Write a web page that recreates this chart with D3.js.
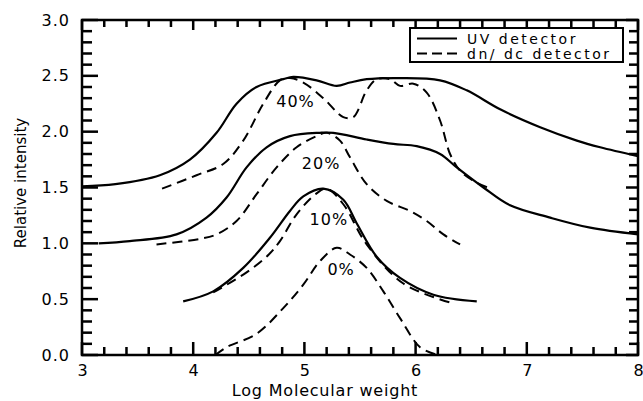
<!DOCTYPE html>
<html><head><meta charset="utf-8">
<script src="https://cdn.jsdelivr.net/npm/d3@7"></script>
<style>body{margin:0;background:#fff}svg{display:block}text{font-family:"DejaVu Sans",sans-serif;fill:#000}</style>
</head><body><svg id="c" width="643" height="401"></svg>
<script>
const xTicks = [3, 4, 5, 6, 7, 8];
const yTicks = [0.0, 0.5, 1.0, 1.5, 2.0, 2.5, 3.0];
const uv40X = [3.0, 3.3, 3.7, 3.97, 4.21, 4.39, 4.57, 4.81, 4.9, 5.11, 5.29, 5.41, 5.56, 5.86, 6.22, 6.46, 6.76, 7.12, 7.45, 7.66, 8.0];
const uv40Y = [1.51, 1.53, 1.61, 1.75, 1.99, 2.25, 2.40, 2.47, 2.49, 2.46, 2.41, 2.44, 2.47, 2.48, 2.46, 2.37, 2.20, 2.04, 1.92, 1.86, 1.78];
const dn40X = [3.72, 4.03, 4.27, 4.45, 4.63, 4.78, 4.87, 4.99, 5.17, 5.35, 5.44, 5.56, 5.65, 5.77, 5.86, 5.98, 6.10, 6.22, 6.31, 6.40, 6.52, 6.67];
const dn40Y = [1.49, 1.61, 1.71, 1.92, 2.25, 2.46, 2.48, 2.44, 2.30, 2.13, 2.13, 2.37, 2.47, 2.47, 2.41, 2.43, 2.35, 2.10, 1.80, 1.65, 1.56, 1.49];
const uv20X = [3.15, 3.43, 3.85, 4.12, 4.30, 4.48, 4.66, 4.87, 5.14, 5.26, 5.56, 5.80, 6.01, 6.22, 6.37, 6.61, 6.85, 7.21, 7.57, 8.0];
const uv20Y = [1.0, 1.02, 1.08, 1.23, 1.41, 1.68, 1.86, 1.96, 1.99, 1.99, 1.93, 1.89, 1.87, 1.80, 1.68, 1.50, 1.34, 1.23, 1.14, 1.08];
const dn20X = [3.67, 4.06, 4.21, 4.39, 4.57, 4.75, 4.93, 5.11, 5.20, 5.32, 5.41, 5.56, 5.74, 5.95, 6.10, 6.25, 6.40];
const dn20Y = [0.99, 1.04, 1.08, 1.20, 1.44, 1.68, 1.86, 1.96, 1.99, 1.92, 1.77, 1.53, 1.38, 1.29, 1.20, 1.08, 0.99];
const uv10X = [3.91, 4.18, 4.45, 4.69, 4.87, 4.99, 5.17, 5.35, 5.47, 5.65, 5.86, 6.16, 6.55];
const uv10Y = [0.48, 0.57, 0.78, 1.05, 1.29, 1.42, 1.49, 1.39, 1.18, 0.88, 0.69, 0.54, 0.48];
const dn10X = [4.18, 4.48, 4.68, 4.78, 4.93, 5.10, 5.20, 5.35, 5.56, 5.89, 6.31];
const dn10Y = [0.56, 0.74, 0.90, 1.02, 1.26, 1.44, 1.49, 1.35, 0.99, 0.64, 0.47];
const dn0X = [4.2, 4.30, 4.57, 4.81, 4.99, 5.14, 5.29, 5.41, 5.56, 5.71, 5.86, 6.04, 6.2];
const dn0Y = [0.0, 0.07, 0.19, 0.42, 0.63, 0.84, 0.96, 0.90, 0.78, 0.57, 0.33, 0.07, 0.0];
const pctLabels = ["40%", "20%", "10%", "0%"];
const pctX = [4.92, 5.15, 5.22, 5.33];
const pctY = [2.22, 1.67, 1.16, 0.72];
const legendLabels = ["UV detector", "dn/ dc detector"];

const svg = d3.select("#c");
const L = 82, R = 638, T = 20, B = 355;
const x = d3.scaleLinear().domain([3, 8]).range([L, R]);
const y = d3.scaleLinear().domain([0, 3]).range([B, T]);

const xMinor = d3.range(3, 8.001, 0.2).map(v => +v.toFixed(2));
const yMinor = d3.range(0, 3.001, 0.1).map(v => +v.toFixed(2));
const isMajX = v => Math.abs(v - Math.round(v)) < 1e-6;
const isMajY = v => Math.abs(v * 2 - Math.round(v * 2)) < 1e-6;

// frame
svg.append("path").attr("d", `M${L},${T}H${R}V${B}H${L}Z`)
  .attr("fill", "none").attr("stroke", "#000").attr("stroke-width", 2.5);

// inward ticks drawn as small filled rectangles, all four sides
const tw = 2.5;
const tg = svg.append("g").attr("fill", "#000");
tg.selectAll("rect.xb").data(xMinor).join("rect").attr("class", "xb")
  .attr("x", d => x(d) - tw / 2).attr("width", tw)
  .attr("y", d => B - (isMajX(d) ? 13 : 8)).attr("height", d => (isMajX(d) ? 13 : 8));
tg.selectAll("rect.xt").data(xMinor).join("rect").attr("class", "xt")
  .attr("x", d => x(d) - tw / 2).attr("width", tw)
  .attr("y", T).attr("height", d => (isMajX(d) ? 10 : 7));
tg.selectAll("rect.yl").data(yMinor).join("rect").attr("class", "yl")
  .attr("y", d => y(d) - tw / 2).attr("height", tw)
  .attr("x", L).attr("width", d => (isMajY(d) ? 16 : 10));
tg.selectAll("rect.yr").data(yMinor).join("rect").attr("class", "yr")
  .attr("y", d => y(d) - tw / 2).attr("height", tw)
  .attr("x", d => R - (isMajY(d) ? 12 : 9)).attr("width", d => (isMajY(d) ? 12 : 9));

const xa = svg.append("g").attr("transform", `translate(0,${B})`)
  .call(d3.axisBottom(x).tickValues(xTicks).tickFormat(d3.format("d")).tickSize(0).tickPadding(10));
xa.select(".domain").remove();
xa.selectAll(".tick line").remove();
xa.selectAll("text").attr("font-size", 16).attr("font-family", "DejaVu Sans").attr("fill", "#000");
const ya = svg.append("g").attr("transform", `translate(${L},0)`)
  .call(d3.axisLeft(y).tickValues(yTicks).tickFormat(d => d.toFixed(1)).tickSize(0).tickPadding(12));
ya.select(".domain").remove();
ya.selectAll(".tick line").remove();
ya.selectAll("text").attr("font-size", 16).attr("font-family", "DejaVu Sans").attr("fill", "#000").attr("letter-spacing", 1);

svg.append("text").attr("x", 325).attr("y", 396).attr("text-anchor", "middle")
  .attr("font-size", 16).attr("letter-spacing", 0.8).text("Log Molecular weight");
svg.append("text").attr("transform", "translate(26,183) rotate(-90)").attr("text-anchor", "middle")
  .attr("font-size", 15).text("Relative intensity");

const line = d3.line().x(d => x(d[0])).y(d => y(d[1])).curve(d3.curveCatmullRom.alpha(0.5));
const zip = (a, b) => a.map((v, i) => [v, b[i]]);
const solid = [zip(uv40X, uv40Y), zip(uv20X, uv20Y), zip(uv10X, uv10Y)];
const dashed = [zip(dn40X, dn40Y), zip(dn20X, dn20Y), zip(dn10X, dn10Y), zip(dn0X, dn0Y)];
svg.append("g").selectAll("path").data(solid).join("path").attr("d", line)
  .attr("fill", "none").attr("stroke", "#000").attr("stroke-width", 2.2);
svg.append("g").selectAll("path").data(dashed).join("path").attr("d", line)
  .attr("fill", "none").attr("stroke", "#000").attr("stroke-width", 2).attr("stroke-dasharray", "10,6");

svg.append("g").selectAll("text").data(pctLabels).join("text")
  .attr("x", (d, i) => x(pctX[i])).attr("y", (d, i) => y(pctY[i]))
  .attr("text-anchor", "middle").attr("font-size", 16).attr("letter-spacing", 1).text(d => d);

// legend
const lg = svg.append("g");
lg.append("rect").attr("x", 410).attr("y", 28).attr("width", 213).attr("height", 34)
  .attr("fill", "#fff").attr("stroke", "#000").attr("stroke-width", 2);
legendLabels.forEach((t, i) => {
  const yy = 38.5 + i * 15;
  lg.append("line").attr("x1", 417).attr("x2", 457).attr("y1", yy).attr("y2", yy)
    .attr("stroke", "#000").attr("stroke-width", 2).attr("stroke-dasharray", i ? "10,5" : null);
  lg.append("text").attr("x", 467).attr("y", yy + 5).attr("font-size", 14).attr("letter-spacing", 2.5).text(t);
});
</script></body></html>
